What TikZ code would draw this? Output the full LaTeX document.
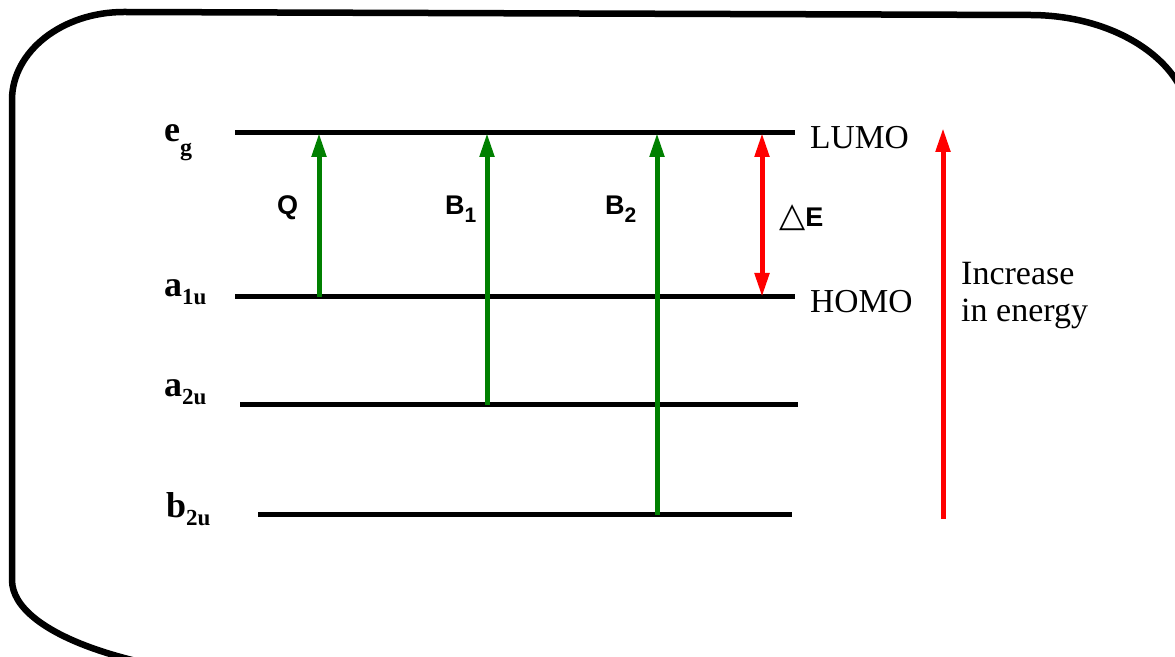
\documentclass[tikz,border=0pt]{standalone}
\usepackage{fontspec}
\usetikzlibrary{arrows.meta}
\newfontfamily\libserif{Liberation Serif}
\newfontfamily\libsans{Liberation Sans}
\newfontfamily\dejavu{DejaVu Sans}
\definecolor{arrgreen}{RGB}{0,128,0}
\definecolor{arrred}{RGB}{255,0,0}
\begin{document}
\begin{tikzpicture}[x=1pt,y=1pt,
  level/.style={line width=5pt},
  garrow/.style={line width=5pt, draw=arrgreen, -{Triangle[length=24pt,width=14pt]}},
  rarrow/.style={line width=5pt, draw=arrred, -{Triangle[length=24pt,width=14pt]}},
  rdarrow/.style={line width=5pt, draw=arrred, {Triangle[length=24pt,width=14pt]}-{Triangle[length=24pt,width=14pt]}},
  orb/.style={anchor=base west, inner sep=0pt, font=\libserif\bfseries\fontsize{36}{36}\selectfont},
  trans/.style={anchor=base west, inner sep=0pt, font=\libsans\bfseries\fontsize{27}{27}\selectfont},
  side/.style={anchor=base west, inner sep=0pt, font=\libserif\fontsize{33.5}{33.5}\selectfont},
  note/.style={anchor=base west, inner sep=0pt, font=\libserif\fontsize{34}{34}\selectfont},
]
\useasboundingbox (0,0) rectangle (1175,656);
\clip (0,0) rectangle (1175,656);
% frame
\draw[line width=6.5pt] (12,76) -- (12,556)
  arc[start angle=180, end angle=90, x radius=112, y radius=88] -- (1030,641)
  arc[start angle=90, end angle=0, x radius=160, y radius=110] -- (1190,-24) -- (312,-24)
  arc[start angle=270, end angle=180, x radius=300, y radius=100] -- cycle;
% levels
\coordinate (egL) at (235,523); \coordinate (egR) at (795,523);
\coordinate (a1L) at (235,359); \coordinate (a1R) at (795,359);
\coordinate (a2L) at (240,251); \coordinate (a2R) at (798,251);
\coordinate (b2L) at (258,141); \coordinate (b2R) at (792,141);
\draw[level] (egL) -- (egR);
\draw[level] (a1L) -- (a1R);
\draw[level] (a2L) -- (a2R);
\draw[level] (b2L) -- (b2R);
% transitions
\coordinate (Qb) at (319,359); \coordinate (Qt) at (319,523);
\coordinate (B1b) at (487,251); \coordinate (B1t) at (487,523);
\coordinate (B2b) at (657,141); \coordinate (B2t) at (657,523);
\coordinate (dEb) at (762,359); \coordinate (dEt) at (762,523);
\coordinate (Eb) at (943,137); \coordinate (Et) at (943,528);
\draw[garrow] (Qb) -- (Qt);
\draw[garrow] (B1b) -- (B1t);
\draw[garrow] (B2b) -- (B2t);
\draw[rdarrow] (dEb) -- (dEt);
\draw[rarrow] (Eb) -- (Et);
% orbital labels
\node[orb] (eg) at (164,514) {e\raisebox{-14pt}{\fontsize{24}{24}\selectfont g}};
\node[orb] (a1u) at (164,359) {a\raisebox{-8pt}{\fontsize{23}{23}\selectfont 1u}};
\node[orb] (a2u) at (164,259) {a\raisebox{-8pt}{\fontsize{23}{23}\selectfont 2u}};
\node[orb] (b2u) at (166,138) {b\raisebox{-8pt}{\fontsize{23}{23}\selectfont 2u}};
% transition labels
\node[trans] (Q) at (277,441) {Q};
\node[trans] (B1) at (445,441) {B\raisebox{-8pt}{\fontsize{21}{21}\selectfont 1}};
\node[trans] (B2) at (605,441) {B\raisebox{-8pt}{\fontsize{21}{21}\selectfont 2}};
\node[anchor=base west, inner sep=0pt] (dE) at (779,429) {{\dejavu\fontsize{34}{34}\selectfont △}{\libsans\bfseries\fontsize{27}{27}\selectfont E}};
% side labels
\node[side] (lumo) at (810,507) {LUMO};
\node[side] (homo) at (810,343) {HOMO};
\node[note] (inc1) at (961,371) {Increase};
\node[note] (inc2) at (961,334) {in energy};
\end{tikzpicture}
\end{document}
